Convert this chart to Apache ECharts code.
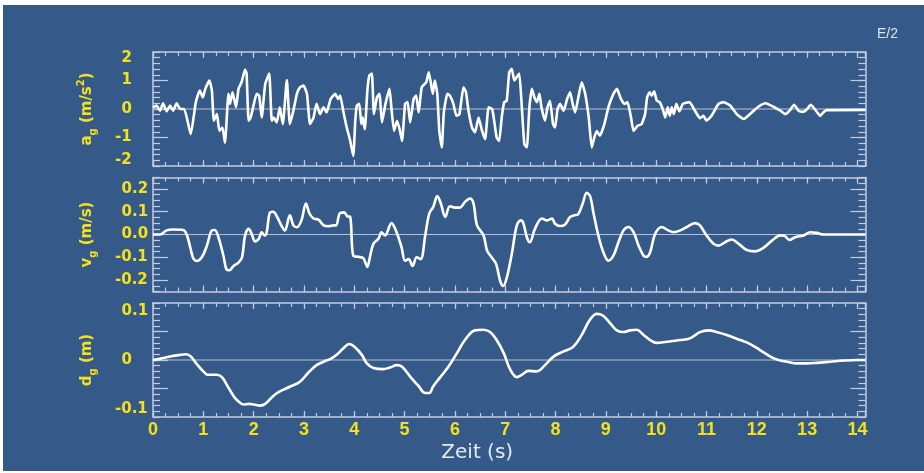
<!DOCTYPE html>
<html>
<head>
<meta charset="utf-8">
<script src="https://cdn.jsdelivr.net/npm/echarts@6/dist/echarts.min.js"></script>
<style>
html,body{margin:0;padding:0;background:#fff;}
#bg{position:absolute;left:3px;top:5px;width:921px;height:466px;background:#355a8a;}
#main{position:absolute;left:0;top:0;width:924px;height:473px;}
</style>
</head>
<body>
<div id="bg"></div>
<div id="main"></div>
<script>
// Beschleunigung a_g (m/s^2)
var accT = [0.00,0.07,0.14,0.20,0.27,0.34,0.40,0.47,0.54,0.62,0.75,0.85,0.93,0.99,1.04,1.12,1.17,1.21,1.27,1.32,1.38,1.43,1.50,1.53,1.58,1.65,1.70,1.76,1.83,1.86,1.90,1.94,1.99,2.06,2.11,2.16,2.23,2.31,2.36,2.40,2.46,2.52,2.58,2.66,2.72,2.79,2.86,2.92,2.99,3.06,3.12,3.19,3.25,3.32,3.39,3.45,3.53,3.62,3.68,3.72,3.78,3.85,3.92,3.98,4.02,4.05,4.10,4.14,4.17,4.21,4.26,4.30,4.35,4.39,4.45,4.50,4.55,4.62,4.70,4.74,4.79,4.85,4.91,4.95,5.01,5.06,5.11,5.18,5.23,5.28,5.34,5.43,5.48,5.52,5.56,5.60,5.65,5.69,5.74,5.78,5.85,5.90,5.97,6.03,6.09,6.17,6.22,6.27,6.34,6.40,6.47,6.54,6.60,6.67,6.74,6.78,6.83,6.88,6.93,6.98,7.03,7.08,7.13,7.18,7.23,7.28,7.33,7.38,7.43,7.48,7.53,7.58,7.63,7.68,7.72,7.79,7.84,7.89,7.95,7.99,8.04,8.09,8.16,8.23,8.29,8.34,8.39,8.46,8.52,8.59,8.66,8.72,8.77,8.82,8.88,8.97,9.05,9.15,9.22,9.30,9.37,9.43,9.50,9.55,9.63,9.71,9.78,9.82,9.87,9.91,9.96,10.01,10.07,10.13,10.18,10.23,10.27,10.31,10.35,10.40,10.46,10.53,10.66,10.77,10.87,10.94,11.00,11.10,11.19,11.24,11.34,11.47,11.60,11.74,11.90,12.03,12.17,12.33,12.47,12.57,12.65,12.74,12.83,12.92,13.00,13.07,13.15,13.26,13.32,13.39,14.16];
var accV = [0.06,0.12,-0.06,0.20,-0.08,0.12,-0.06,0.20,0.00,0.00,-0.88,0.23,0.65,0.41,0.71,1.00,0.65,-0.41,-0.18,-0.77,-0.65,-1.18,0.53,0.18,0.59,0.06,0.71,0.94,1.38,1.24,-0.41,-0.30,0.06,0.53,0.47,-0.30,0.88,1.24,-0.41,-0.30,-0.47,0.06,-0.53,1.02,-0.53,-0.06,0.53,0.76,0.82,0.53,-0.53,-0.30,0.18,-0.18,0.06,-0.12,0.35,0.53,0.35,0.47,-0.06,-0.65,-1.12,-1.65,-0.41,0.12,0.18,-0.53,-0.30,-0.71,0.65,1.18,1.24,-0.18,0.41,0.53,-0.47,0.18,0.71,0.00,-0.77,-0.41,-0.77,-1.12,0.18,0.24,-0.47,0.35,0.47,-0.12,0.76,0.94,1.29,0.94,0.53,1.00,0.53,-0.77,-1.35,-0.12,0.53,0.47,0.18,-0.24,-0.18,0.76,0.59,-0.06,-0.65,-0.82,-0.30,-0.77,-1.06,0.06,0.00,-0.41,-1.00,-1.12,-0.30,0.24,0.29,1.29,1.41,1.00,1.12,1.24,0.06,-1.24,-1.35,0.06,0.71,0.41,0.24,0.53,0.06,-0.41,0.06,0.29,-0.53,-0.65,0.00,0.18,-0.06,0.35,0.59,0.18,-0.12,0.47,0.94,0.53,-0.30,-1.35,-1.00,-0.77,-0.94,-0.53,0.06,0.53,0.71,0.35,0.18,0.24,-0.30,-0.77,-0.59,-0.53,-0.18,0.41,0.59,0.47,0.62,0.30,0.24,0.00,-0.30,0.06,-0.24,0.06,-0.18,0.18,-0.08,0.18,0.24,-0.06,-0.32,-0.24,-0.41,-0.24,0.04,0.18,0.24,0.12,-0.18,-0.35,-0.12,0.08,0.20,0.08,-0.06,-0.18,-0.06,0.15,-0.06,-0.10,0.00,0.15,0.00,-0.24,-0.12,-0.04,-0.03];

// Geschwindigkeit v_g (m/s)
var velT = [0.00,0.14,0.27,0.40,0.60,0.67,0.74,0.80,0.87,0.97,1.07,1.17,1.23,1.30,1.40,1.46,1.52,1.60,1.70,1.77,1.83,1.90,1.96,2.03,2.10,2.16,2.22,2.26,2.32,2.39,2.46,2.56,2.62,2.72,2.79,2.86,2.95,3.04,3.11,3.19,3.29,3.39,3.49,3.59,3.64,3.71,3.80,3.86,3.92,3.98,4.08,4.18,4.26,4.31,4.38,4.48,4.54,4.61,4.74,4.84,4.94,5.01,5.08,5.16,5.24,5.32,5.41,5.49,5.57,5.65,5.72,5.81,5.90,6.00,6.10,6.20,6.30,6.37,6.44,6.57,6.64,6.73,6.82,6.90,6.96,7.03,7.13,7.23,7.31,7.36,7.43,7.49,7.59,7.73,7.83,7.93,7.99,8.09,8.19,8.29,8.37,8.45,8.54,8.62,8.69,8.75,8.85,8.95,9.05,9.15,9.25,9.35,9.45,9.55,9.65,9.75,9.81,9.88,9.98,10.11,10.24,10.35,10.48,10.61,10.77,10.87,11.00,11.14,11.24,11.37,11.50,11.64,11.80,11.97,12.13,12.30,12.47,12.55,12.65,12.76,12.93,13.06,13.19,13.33,14.16];
var velV = [0.000,0.000,0.018,0.022,0.020,0.000,-0.056,-0.104,-0.116,-0.100,-0.050,0.018,0.020,-0.012,-0.093,-0.153,-0.157,-0.138,-0.123,-0.100,-0.004,0.025,0.003,-0.030,-0.020,0.010,-0.004,0.010,0.095,0.100,0.080,0.036,0.018,0.084,0.040,0.032,0.062,0.136,0.092,0.070,0.065,0.040,0.036,0.040,0.040,0.092,0.097,0.080,0.077,-0.093,-0.098,-0.104,-0.142,-0.100,-0.041,-0.019,0.010,-0.004,0.050,0.010,-0.056,-0.115,-0.108,-0.138,-0.100,-0.108,-0.004,0.092,0.121,0.169,0.136,0.077,0.124,0.118,0.118,0.143,0.158,0.136,0.040,-0.004,-0.071,-0.100,-0.130,-0.204,-0.226,-0.190,-0.086,0.040,0.062,0.050,-0.012,-0.034,0.025,0.070,0.062,0.070,0.047,0.037,0.044,0.077,0.084,0.089,0.136,0.183,0.166,0.099,-0.004,-0.078,-0.115,-0.093,-0.034,0.018,0.033,0.010,-0.049,-0.093,-0.098,-0.078,0.003,0.033,0.018,0.010,0.018,0.033,0.050,0.040,-0.004,-0.041,-0.049,-0.034,-0.022,-0.041,-0.068,-0.074,-0.059,-0.027,-0.004,-0.006,-0.024,-0.012,-0.004,0.010,0.007,0.000,0.000];

// Verschiebung d_g (m)
var dispT = [0.00,0.13,0.34,0.54,0.64,0.74,0.87,1.00,1.10,1.27,1.37,1.47,1.60,1.70,1.80,1.90,2.00,2.13,2.23,2.39,2.52,2.72,2.92,3.09,3.25,3.39,3.55,3.65,3.78,3.90,4.01,4.15,4.25,4.38,4.58,4.71,4.85,4.95,5.11,5.28,5.41,5.49,5.57,5.71,5.87,6.04,6.20,6.40,6.57,6.70,6.83,6.97,7.10,7.23,7.33,7.46,7.63,7.79,7.96,8.16,8.35,8.52,8.68,8.82,8.94,9.09,9.22,9.35,9.48,9.61,9.75,9.88,10.01,10.21,10.47,10.67,10.87,11.04,11.20,11.40,11.67,11.87,12.07,12.27,12.43,12.60,12.80,13.00,13.19,13.46,13.73,13.99,14.16];
var dispV = [0.000,0.002,0.006,0.009,0.010,0.007,-0.007,-0.020,-0.026,-0.026,-0.030,-0.044,-0.063,-0.073,-0.078,-0.077,-0.078,-0.080,-0.077,-0.063,-0.055,-0.047,-0.038,-0.022,-0.009,-0.003,0.003,0.009,0.020,0.028,0.023,0.009,-0.006,-0.014,-0.016,-0.013,-0.009,-0.012,-0.029,-0.046,-0.058,-0.058,-0.046,-0.030,-0.012,0.012,0.035,0.052,0.053,0.049,0.035,0.012,-0.017,-0.030,-0.026,-0.019,-0.020,-0.009,0.006,0.015,0.023,0.044,0.070,0.081,0.078,0.064,0.052,0.049,0.052,0.053,0.044,0.035,0.030,0.032,0.035,0.038,0.049,0.052,0.049,0.044,0.035,0.028,0.017,0.006,0.000,-0.003,-0.006,-0.006,-0.005,-0.003,-0.001,0.000,0.000];

// Achsen
var xLabels = ['0','1','2','3','4','5','6','7','8','9','10','11','12','13','14'];
var accLabelVals = [-2,-1,0,1,2];
var accLabels = ['-2','-1','0','1','2'];
var accMajor = [-1,0,1];
var velLabelVals = [-0.2,-0.1,0,0.1,0.2];
var velLabels = ['-0.2','-0.1','0.0','0.1','0.2'];
var velMajor = [-0.2,-0.1,0,0.1,0.2];
var dispLabelVals = [-0.1,0,0.1];
var dispLabels = ['-0.1','0','0.1'];
var dispMajor = [-0.05,0,0.05];

var yellow = '#f2e11c';
var frameCol = '#c4cde0';
var xMax = 14.16;

var panels = [
    {top: 52, min: -2, max: 2, minor: 0.2, major: accMajor, labelVals: accLabelVals, labels: accLabels, shift: 6,
     name: '{a|a}{s|g}{a| (m/s}{p|2}{a|)}', t: accT, v: accV, smooth: 0.15},
    {top: 177.5, min: -0.25, max: 0.25, minor: 0.025, major: velMajor, labelVals: velLabelVals, labels: velLabels, shift: 0,
     name: '{a|v}{s|g}{a| (m/s)}', t: velT, v: velV, smooth: 0.35},
    {top: 303, min: -0.1, max: 0.1, minor: 0.01, major: dispMajor, labelVals: dispLabelVals, labels: dispLabels, shift: 8,
     name: '{a|d}{s|g}{a| (m)}', t: dispT, v: dispV, smooth: 0.4}
];

function yFormatter(p) {
    return function (value) {
        var k = p.labelVals.findIndex(function (v) { return Math.abs(v - value) < 1e-9; });
        if (k < 0) return '';
        var txt = p.labels[k];
        var pos = Math.abs(value - p.max) < 1e-9 ? 't' : (Math.abs(value - p.min) < 1e-9 ? 'b' : 'm');
        return '{' + pos + (txt.charAt(0) === '-' ? 'n' : 'p') + '|' + txt + '}';
    };
}

var grids = [], xAxes = [], yAxes = [], series = [];
var tickStyle = {color: frameCol, width: 1.2};

panels.forEach(function (p, i) {
    grids.push({left: 153, right: 58.5, top: p.top, height: 114, outerBoundsMode: 'none'});

    var xBase = xAxes.length;
    ['bottom', 'top'].forEach(function (pos) {
        var major = {
            gridIndex: i, type: 'value', position: pos, min: 0, max: xMax, interval: 1,
            axisLine: {show: true, onZero: false, lineStyle: {color: frameCol, width: 1.5}},
            axisTick: {show: true, inside: true, length: 6, lineStyle: tickStyle},
            axisLabel: {show: false},
            splitLine: {show: false}
        };
        if (pos === 'bottom' && i === 2) {
            major.axisLabel = {
                show: true, margin: 4, color: yellow, fontSize: 18, fontWeight: 'bold',
                fontFamily: '"Liberation Sans Narrow", "Arial Narrow", "Liberation Sans"',
                formatter: function (v) { return Number.isInteger(v) ? xLabels[v] : ''; }
            };
            major.name = 'Zeit (s)';
            major.nameLocation = 'middle';
            major.nameGap = 26;
            major.nameTextStyle = {color: '#e6eaf2', fontSize: 20, fontFamily: 'DejaVu Sans', padding: [0, 64, 0, 0]};
        }
        xAxes.push(major);
        xAxes.push({
            gridIndex: i, type: 'value', position: pos, min: 0, max: xMax, interval: 0.25,
            axisLine: {show: false, onZero: false},
            axisTick: {show: true, inside: true, length: 4, lineStyle: tickStyle},
            axisLabel: {show: false}, splitLine: {show: false}
        });
    });

    var yBase = yAxes.length;
    var s2 = p.shift * 2, pl = 6.5;
    ['left', 'right'].forEach(function (pos) {
        var major = {
            gridIndex: i, type: 'value', position: pos, offset: 0, min: p.min, max: p.max,
            axisLine: {show: true, onZero: false, lineStyle: {color: frameCol, width: 1.5}},
            axisTick: {show: true, inside: true, length: 15, lineStyle: tickStyle, customValues: p.major},
            axisLabel: {show: false},
            splitLine: {show: false}
        };
        if (pos === 'left') {
            major.axisLabel = {
                show: true, customValues: p.labelVals, align: 'left', margin: 38,
                color: yellow, fontSize: 15, fontWeight: 'bold', fontFamily: 'DejaVu Sans',
                formatter: yFormatter(p),
                rich: {
                    mp: {padding: [0, 0, 0, pl]}, mn: {padding: [0, 0, 0, 0]},
                    tp: {padding: [s2, 0, 0, pl]}, tn: {padding: [s2, 0, 0, 0]},
                    bp: {padding: [0, 0, s2, pl]}, bn: {padding: [0, 0, s2, 0]}
                }
            };
            major.name = p.name;
            major.nameLocation = 'middle';
            major.nameRotate = 90;
            major.nameGap = 55;
            major.nameTextStyle = {
                color: yellow, fontFamily: 'DejaVu Sans', fontWeight: 'bold', fontSize: 15,
                rich: {
                    a: {color: yellow, fontFamily: 'DejaVu Sans', fontWeight: 'bold', fontSize: 15, lineHeight: 22},
                    s: {color: yellow, fontFamily: 'DejaVu Sans', fontWeight: 'bold', fontSize: 10, lineHeight: 10, verticalAlign: 'bottom'},
                    p: {color: yellow, fontFamily: 'DejaVu Sans', fontWeight: 'bold', fontSize: 10, lineHeight: 10, verticalAlign: 'top'}
                }
            };
        }
        yAxes.push(major);
        yAxes.push({
            gridIndex: i, type: 'value', position: pos, offset: 0, min: p.min, max: p.max, interval: p.minor,
            axisLine: {show: false, onZero: false},
            axisTick: {show: true, inside: true, length: 7, lineStyle: tickStyle},
            axisLabel: {show: false}, splitLine: {show: false}
        });
    });

    // Nulllinie
    series.push({
        type: 'line', xAxisIndex: xBase, yAxisIndex: yBase, silent: true, symbol: 'none', z: 1,
        data: [[0, 0], [xMax, 0]],
        lineStyle: {color: '#b6c1d5', width: 1}
    });
    var pts = [];
    p.t.forEach(function (t, k) { pts.push([t, p.v[k]]); });
    series.push({
        type: 'line', xAxisIndex: xBase, yAxisIndex: yBase, showSymbol: false, symbol: 'none',
        smooth: p.smooth, z: 3, data: pts,
        lineStyle: {color: '#ffffff', width: 2.6, join: 'round'}
    });
});

var myChart = echarts.init(document.getElementById('main'), null, {renderer: 'canvas'});
myChart.setOption({
    animation: false,
    backgroundColor: 'transparent',
    title: {
        text: 'E/2', left: 877, top: 27, padding: 0,
        textStyle: {color: '#dfe4ee', fontSize: 14, fontWeight: 'normal', fontFamily: 'Liberation Sans'}
    },
    grid: grids,
    xAxis: xAxes,
    yAxis: yAxes,
    series: series
});
</script>
</body>
</html>
